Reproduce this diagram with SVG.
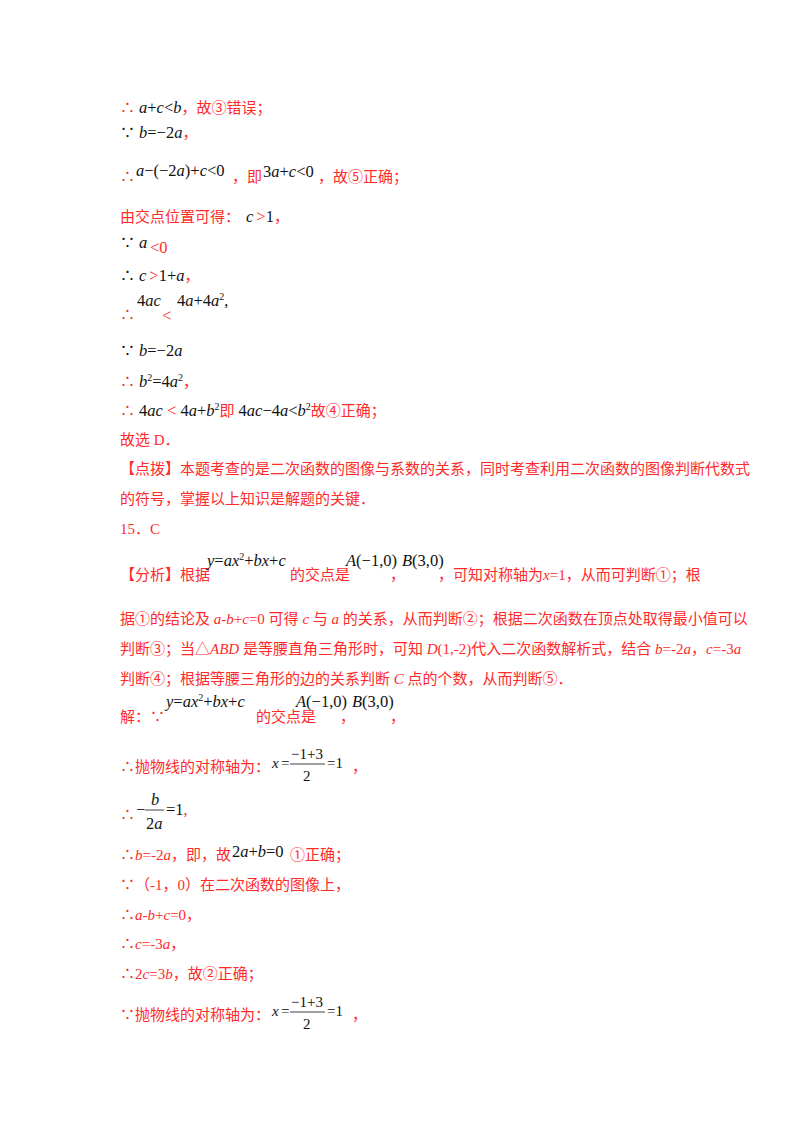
<svg xmlns="http://www.w3.org/2000/svg" width="800" height="1132" viewBox="0 0 800 1132">
<style>
text{font-family:"Liberation Serif","Noto Sans CJK SC",serif;font-size:15px}
.r{fill:#ff2a2a}
.k{fill:#111}
.m{font-size:16.5px}
.i{font-style:italic}
.s{font-size:10px}
</style>
<rect width="800" height="1132" fill="#fff"/>
<g id="text">
<text x="120" y="113"><tspan class="r">∴</tspan><tspan class="k i m" dx="4">a</tspan><tspan class="k m">+</tspan><tspan class="k i m">c</tspan><tspan class="k m">&lt;</tspan><tspan class="k i m">b</tspan><tspan class="r">，故③错误；</tspan></text>
<text x="120" y="138"><tspan class="k">∵</tspan><tspan class="k i m" dx="4">b</tspan><tspan class="k m">=−2</tspan><tspan class="k i m">a</tspan><tspan class="r">，</tspan></text>
<text x="120" y="182" class="r">∴</text>
<text x="136" y="176" class="m"><tspan class="k i">a</tspan><tspan class="k">−(−2</tspan><tspan class="k i">a</tspan><tspan class="k">)+</tspan><tspan class="k i">c</tspan><tspan class="k">&lt;0</tspan></text>
<text x="232" y="182" class="r">，即</text>
<text x="263" y="177" class="m"><tspan class="k">3</tspan><tspan class="k i">a</tspan><tspan class="k">+</tspan><tspan class="k i">c</tspan><tspan class="k">&lt;0</tspan></text>
<text x="318" y="182" class="r">，故⑤正确；</text>
<text x="120" y="222"><tspan class="r">由交点位置可得：</tspan><tspan class="k i m" dx="6">c</tspan><tspan class="r m" dx="3">&gt;</tspan><tspan class="k m">1</tspan><tspan class="r">，</tspan></text>
<text x="120" y="248"><tspan class="k">∵</tspan><tspan class="k i m" dx="4">a</tspan></text>
<text x="150" y="253" class="r m">&lt;0</text>
<text x="120" y="281"><tspan class="k">∴</tspan><tspan class="k i m" dx="4">c</tspan><tspan class="r m" dx="3">&gt;</tspan><tspan class="k m">1+</tspan><tspan class="k i m">a</tspan><tspan class="r">，</tspan></text>
<text x="120" y="320" class="r">∴</text>
<text x="137" y="306" class="m"><tspan class="k">4</tspan><tspan class="k i">ac</tspan></text>
<text x="162" y="321" class="r m">&lt;</text>
<text x="177" y="306" class="m"><tspan class="k">4</tspan><tspan class="k i">a</tspan><tspan class="k">+4</tspan><tspan class="k i">a</tspan><tspan class="k s" dy="-6">2</tspan><tspan class="k" dy="6">,</tspan></text>
<text x="120" y="356"><tspan class="k">∵</tspan><tspan class="k i m" dx="4">b</tspan><tspan class="k m">=−2</tspan><tspan class="k i m">a</tspan></text>
<text x="120" y="387"><tspan class="r">∴</tspan><tspan class="k i m" dx="4">b</tspan><tspan class="k s" dy="-6">2</tspan><tspan class="k m" dy="6">=4</tspan><tspan class="k i m">a</tspan><tspan class="k s" dy="-6">2</tspan><tspan class="r" dy="6">，</tspan></text>
<text x="120" y="416"><tspan class="r">∴</tspan><tspan class="k m" dx="4">4</tspan><tspan class="k i m">ac</tspan><tspan class="r m"> &lt; </tspan><tspan class="k m">4</tspan><tspan class="k i m">a</tspan><tspan class="k m">+</tspan><tspan class="k i m">b</tspan><tspan class="k s" dy="-6">2</tspan><tspan class="r" dy="6">即</tspan><tspan class="k m"> 4</tspan><tspan class="k i m">ac</tspan><tspan class="k m">−4</tspan><tspan class="k i m">a</tspan><tspan class="k m">&lt;</tspan><tspan class="k i m">b</tspan><tspan class="k s" dy="-6">2</tspan><tspan class="r" dy="6">故④正确；</tspan></text>
<text x="120" y="445" class="r">故选 D．</text>
<text x="120" y="474" class="r">【点拨】本题考查的是二次函数的图像与系数的关系，同时考查利用二次函数的图像判断代数式</text>
<text x="120" y="504" class="r">的符号，掌握以上知识是解题的关键．</text>
<text x="120" y="534" class="r">15．C</text>
<text x="120" y="580" class="r">【分析】根据</text>
<text x="207" y="566" class="m"><tspan class="k i">y</tspan><tspan class="k">=</tspan><tspan class="k i">ax</tspan><tspan class="k s" dy="-6">2</tspan><tspan class="k" dy="6">+</tspan><tspan class="k i">bx</tspan><tspan class="k">+</tspan><tspan class="k i">c</tspan></text>
<text x="290" y="580" class="r">的交点是</text>
<text x="346" y="566" class="m"><tspan class="k i">A</tspan><tspan class="k">(−1,0)</tspan></text>
<text x="390" y="580" class="r">，</text>
<text x="402" y="566" class="m"><tspan class="k i">B</tspan><tspan class="k">(3,0)</tspan></text>
<text x="438" y="580" class="r">，可知对称轴为<tspan class="i">x</tspan>=1，从而可判断①；根</text>
<text x="120" y="624" class="r">据①的结论及 <tspan class="i">a</tspan>-<tspan class="i">b</tspan>+<tspan class="i">c</tspan>=0 可得 <tspan class="i">c</tspan> 与 <tspan class="i">a</tspan> 的关系，从而判断②；根据二次函数在顶点处取得最小值可以</text>
<text x="120" y="654" class="r">判断③；当△<tspan class="i">ABD</tspan> 是等腰直角三角形时，可知 <tspan class="i">D</tspan>(1,-2)代入二次函数解析式，结合 <tspan class="i">b</tspan>=-2<tspan class="i">a</tspan>，<tspan class="i">c</tspan>=-3<tspan class="i">a</tspan></text>
<text x="120" y="684" class="r">判断④；根据等腰三角形的边的关系判断 <tspan class="i">C</tspan> 点的个数，从而判断⑤．</text>
<text x="120" y="722" class="r">解：∵</text>
<text x="166" y="707" class="m"><tspan class="k i">y</tspan><tspan class="k">=</tspan><tspan class="k i">ax</tspan><tspan class="k s" dy="-6">2</tspan><tspan class="k" dy="6">+</tspan><tspan class="k i">bx</tspan><tspan class="k">+</tspan><tspan class="k i">c</tspan></text>
<text x="256" y="722" class="r">的交点是</text>
<text x="296" y="707" class="m"><tspan class="k i">A</tspan><tspan class="k">(−1,0)</tspan></text>
<text x="340" y="722" class="r">，</text>
<text x="352" y="707" class="m"><tspan class="k i">B</tspan><tspan class="k">(3,0)</tspan></text>
<text x="390" y="722" class="r">，</text>
<text x="120" y="772" class="r">∴抛物线的对称轴为：</text>
<text x="272" y="768" class="k i">x</text>
<text x="281" y="768" class="k">=</text>
<text x="291" y="759" class="k">−1+3</text>
<line x1="290" y1="764" x2="325" y2="764" stroke="#111" stroke-width="0.8"/>
<text x="303" y="781" class="k">2</text>
<text x="327" y="768" class="k">=1</text>
<text x="352" y="772" class="r">，</text>
<text x="120" y="820" class="r">∴</text>
<text x="136" y="815" class="k m">−</text>
<text x="151" y="805" class="k i m">b</text>
<line x1="145" y1="810" x2="164" y2="810" stroke="#111" stroke-width="0.8"/>
<text x="146" y="829" class="k m">2<tspan class="i">a</tspan></text>
<text x="166" y="815" class="k m">=1<tspan class="r">,</tspan></text>
<text x="120" y="860" class="r">∴<tspan class="i">b</tspan>=-2<tspan class="i">a</tspan>，即，故</text>
<text x="232" y="857" class="k m">2<tspan class="i">a</tspan>+<tspan class="i">b</tspan>=0</text>
<text x="290" y="860" class="r">①正确；</text>
<text x="120" y="890" class="r">∵（-1，0）在二次函数的图像上，</text>
<text x="120" y="920" class="r">∴<tspan class="i">a</tspan>-<tspan class="i">b</tspan>+<tspan class="i">c</tspan>=0，</text>
<text x="120" y="949" class="r">∴<tspan class="i">c</tspan>=-3<tspan class="i">a</tspan>，</text>
<text x="120" y="979" class="r">∴2<tspan class="i">c</tspan>=3<tspan class="i">b</tspan>，故②正确；</text>
<text x="120" y="1020" class="r">∵抛物线的对称轴为：</text>
<text x="272" y="1016" class="k i">x</text>
<text x="281" y="1016" class="k">=</text>
<text x="291" y="1007" class="k">−1+3</text>
<line x1="290" y1="1012" x2="325" y2="1012" stroke="#111" stroke-width="0.8"/>
<text x="303" y="1029" class="k">2</text>
<text x="327" y="1016" class="k">=1</text>
<text x="352" y="1020" class="r">，</text>
</g>
</svg>
